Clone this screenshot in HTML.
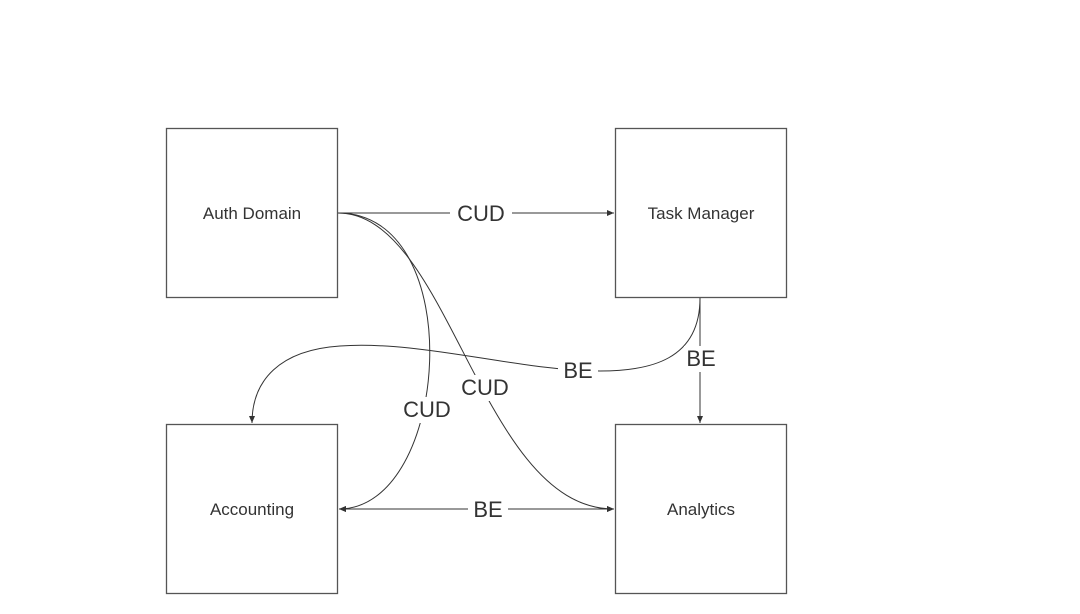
<!DOCTYPE html>
<html><head><style>
body{margin:0;background:#fff;}
svg{display:block;font-family:"Liberation Sans","DejaVu Sans",sans-serif;}
</style></head><body>
<svg width="1080" height="614" viewBox="0 0 1080 614">
<defs>
<marker id="a" markerWidth="8" markerHeight="8" refX="7" refY="4" orient="auto" markerUnits="userSpaceOnUse">
<path d="M0,1 L7,4 L0,7 Z" fill="#333"/></marker>
<marker id="s" markerWidth="8" markerHeight="8" refX="1" refY="4" orient="auto" markerUnits="userSpaceOnUse">
<path d="M8,1 L1,4 L8,7 Z" fill="#333"/></marker>
</defs>
<g fill="#fff" stroke="#555" stroke-width="1.3">
<rect x="166.5" y="128.5" width="171" height="169"/>
<rect x="615.5" y="128.5" width="171" height="169"/>
<rect x="166.5" y="424.5" width="171" height="169"/>
<rect x="615.5" y="424.5" width="171" height="169"/>
</g>
<g fill="none" stroke="#333" stroke-width="1">
<path d="M338,213 L614,213" marker-end="url(#a)"/>
<path d="M338,213 C470,213 450,509 339,509" marker-end="url(#a)"/>
<path d="M338,213 C450,213 480,509 614,509" marker-end="url(#a)"/>
<path d="M700,298 C700,360 650,371 600,371 C520,371 420,340 340,346 C280,350 252,380 252,423" marker-end="url(#a)"/>
<path d="M700,298 L700,423" marker-end="url(#a)"/>
<path d="M339,509 L614,509" marker-start="url(#s)" marker-end="url(#a)"/>
</g>
<g font-size="22" fill="#333" text-anchor="middle">
<rect x="450" y="200" width="62" height="26" fill="#fff"/><text x="481" y="221">CUD</text>
<rect x="398" y="397" width="58" height="26" fill="#fff"/><text x="427" y="417">CUD</text>
<rect x="456" y="375" width="58" height="26" fill="#fff"/><text x="485" y="395">CUD</text>
<rect x="558" y="358" width="40" height="26" fill="#fff"/><text x="578" y="378">BE</text>
<rect x="684" y="346" width="34" height="26" fill="#fff"/><text x="701" y="366">BE</text>
<rect x="468" y="496" width="40" height="26" fill="#fff"/><text x="488" y="517">BE</text>
</g>
<g font-size="17" fill="#333" text-anchor="middle">
<text x="252" y="219">Auth Domain</text>
<text x="701" y="219">Task Manager</text>
<text x="252" y="515">Accounting</text>
<text x="701" y="515">Analytics</text>
</g>
</svg>
</body></html>
